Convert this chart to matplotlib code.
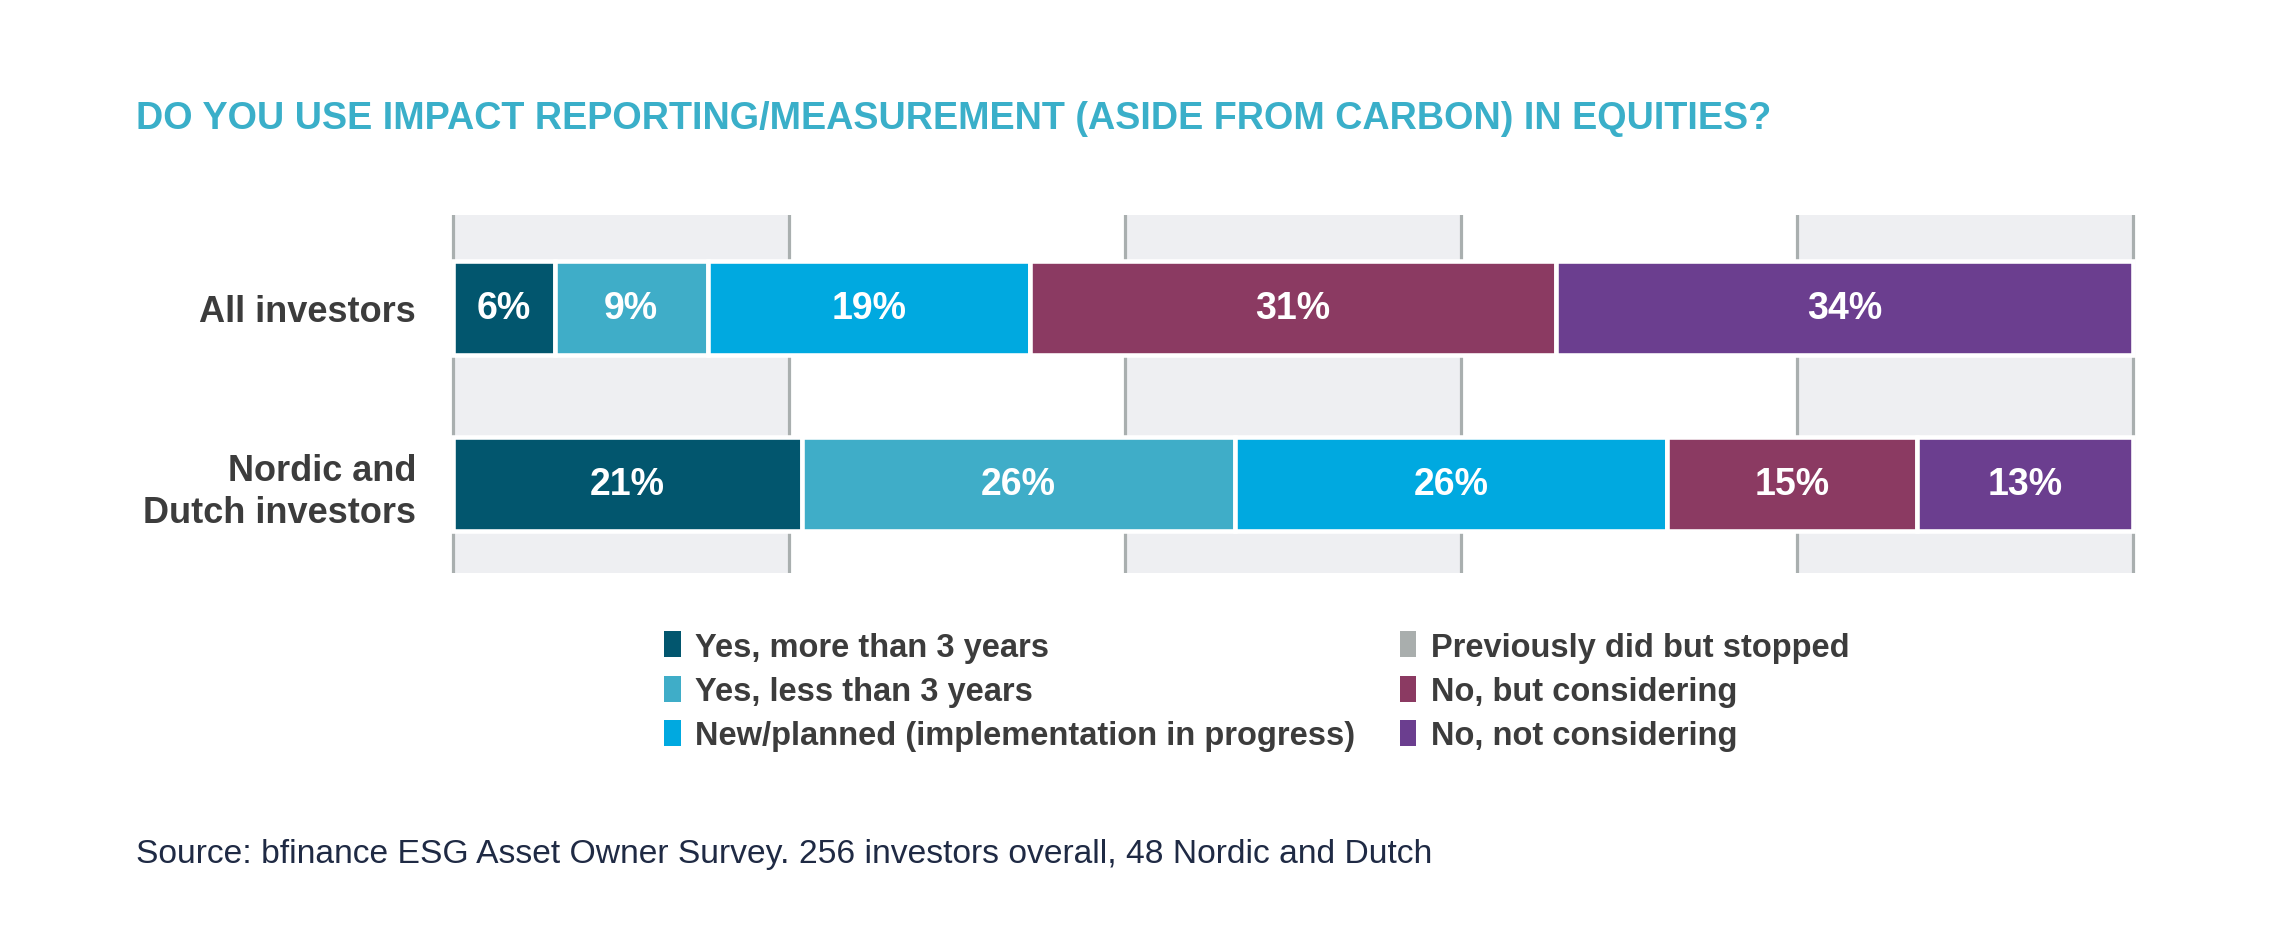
import matplotlib.pyplot as plt
from matplotlib.patches import Patch

plt.rcParams['font.family'] = ['Liberation Sans', 'DejaVu Sans']

title = 'DO YOU USE IMPACT REPORTING/MEASUREMENT (ASIDE FROM CARBON) IN EQUITIES?'
source = 'Source: bfinance ESG Asset Owner Survey. 256 investors overall, 48 Nordic and Dutch'

groups = ['All investors', 'Nordic and\nDutch investors']
categories = ['Yes, more than 3 years', 'Yes, less than 3 years',
              'New/planned (implementation in progress)', 'Previously did but stopped',
              'No, but considering', 'No, not considering']
colors = ['#02566E', '#3FADC8', '#00A9E0', '#A9AEAD', '#8B3A62', '#6B3E8F']

# percentages per category, one value per group (All, Nordic & Dutch)
yes_more = [6, 21]
yes_less = [9, 26]
planned = [19, 26]
stopped = [0, 0]
no_considering = [31, 15]
no_not = [34, 13]
series = [yes_more, yes_less, planned, stopped, no_considering, no_not]

fig = plt.figure(figsize=(22.91, 9.45), dpi=100)
ax = fig.add_axes([448 / 2291, 1 - 574 / 945, 1690 / 2291, 358 / 945])

ypos = [1, 0]
# alternating background bands and gridlines
for x0 in range(0, 100, 40):
    ax.axvspan(x0, x0 + 20, color='#EEEFF2', zorder=0, lw=0)
for x in range(0, 101, 20):
    ax.axvline(x, color='#A9AFAF', lw=2.3, zorder=1)

totals = [sum(s[i] for s in series) for i in range(len(groups))]
left = [0.0, 0.0]
for vals, col in zip(series, colors):
    widths = [v / t * 100 for v, t in zip(vals, totals)]
    ax.barh(ypos, widths, left=left, height=0.53, color=col,
            edgecolor='white', linewidth=3.3, zorder=2)
    for y, l, w, v in zip(ypos, left, widths, vals):
        if v > 0:
            ax.text(l + w / 2, y, f'{v}%', ha='center', va='center',
                    color='white', fontsize=27, fontweight='bold', zorder=3)
    left = [l + w for l, w in zip(left, widths)]

ax.set_xlim(-0.3, 100.3)
ax.set_ylim(-0.506, 1.528)
ax.set_yticks(ypos)
ax.set_yticklabels(groups, fontsize=26, fontweight='bold', color='#3C3C3C',
                   linespacing=1.25)
ax.tick_params(axis='y', length=0, pad=23)
ax.set_xticks([])
for s in ax.spines.values():
    s.set_visible(False)

fig.text(136 / 2291, 1 - 119 / 945, title, color='#3AAFC9', fontsize=27.2,
         fontweight='bold', va='center', ha='left')

handles = [Patch(facecolor=c, edgecolor='none') for c in colors]
fig.legend(handles, categories, ncol=2, loc='upper left',
           bbox_to_anchor=(635 / 2291, 1 - 603 / 945), frameon=False,
           handlelength=0.5, handleheight=0.85, handletextpad=0.45,
           columnspacing=1.35, labelspacing=0.4,
           prop={'size': 23.5, 'weight': 'bold'}, labelcolor='#3C3C3C')

fig.text(136 / 2291, 1 - 855 / 945, source, color='#1F2A44', fontsize=24.25,
         va='center', ha='left')

fig.savefig('out.png', dpi=100, facecolor='white')
